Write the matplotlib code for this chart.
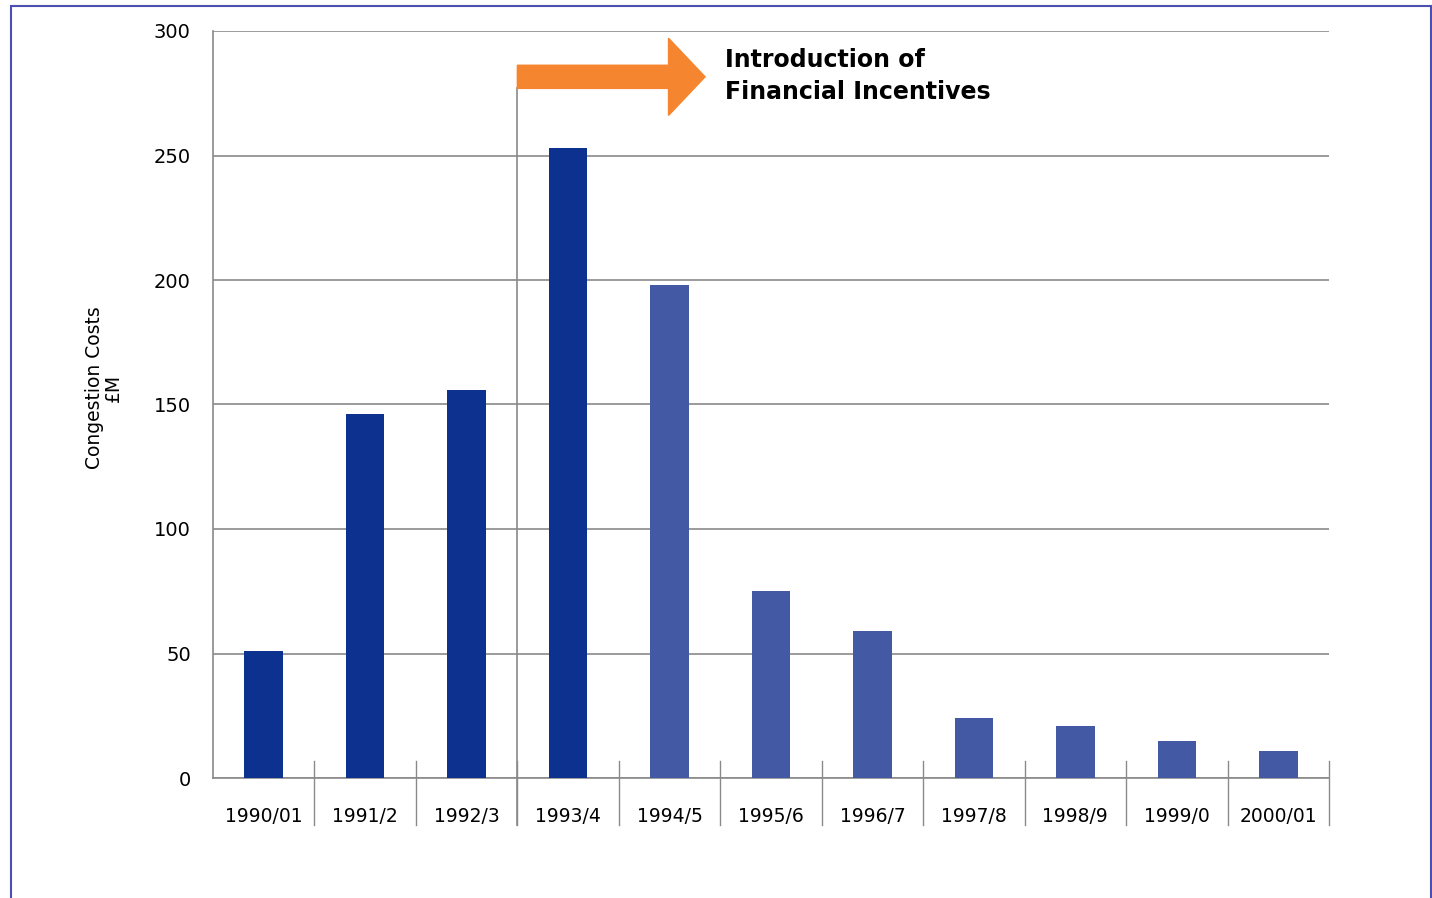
import matplotlib
matplotlib.use("Agg")
import matplotlib.pyplot as plt
from matplotlib.patches import Rectangle, FancyArrow
from matplotlib.lines import Line2D

categories = ["1990/01", "1991/2", "1992/3", "1993/4", "1994/5", "1995/6",
              "1996/7", "1997/8", "1998/9", "1999/0", "2000/01"]
values = [51, 146, 156, 253, 198, 75, 59, 24, 21, 15, 11]
yticks = [0, 50, 100, 150, 200, 250, 300]
dark = "#0D318F"
light = "#4459A3"
colors = [dark] * 4 + [light] * 7

W, H = 1432, 898
fig = plt.figure(figsize=(W / 100, H / 100), dpi=100)
fig.patch.set_facecolor("white")

# outer frame
fig.add_artist(Rectangle((11 / W, -0.01), (1431 - 11) / W, (H - 6) / H + 0.01,
                         transform=fig.transFigure, fill=False,
                         edgecolor="#4A4FB0", linewidth=1.5))

ax = fig.add_axes([213 / W, 1 - 778 / H, (1329 - 213) / W, (778 - 31) / H])
n = len(categories)
x = list(range(n))
ax.bar(x, values, width=0.38, color=colors, zorder=3)
ax.set_xlim(-0.5, n - 0.5)
ax.set_ylim(0, 300)
ax.set_yticks(yticks)
ax.set_yticklabels([str(t) for t in yticks], fontsize=14, family="DejaVu Sans")
ax.yaxis.grid(True, color="#8A8A8A", linewidth=1.2, zorder=0)
ax.tick_params(axis="y", length=0, pad=16)
ax.set_xticks(x)
ax.set_xticklabels(categories, fontsize=13.5, family="DejaVu Sans")
ax.tick_params(axis="x", length=0, pad=21)
for s in ["top", "right"]:
    ax.spines[s].set_visible(False)
ax.spines["left"].set_color("#8A8A8A")
ax.spines["bottom"].set_color("#8A8A8A")
ax.spines["left"].set_linewidth(1.2)
ax.spines["bottom"].set_linewidth(1.2)

# category separators below axis
for k in range(1, n + 1):
    xb = k - 0.5
    ax.add_line(Line2D([xb, xb], [-19, 7], color="#8A8A8A", linewidth=1.0,
                       clip_on=False, zorder=2))

# vertical marker line at 1993/4 boundary
ax.add_line(Line2D([2.5, 2.5], [-19, 277], color="#8A8A8A", linewidth=1.2,
                   clip_on=False, zorder=4))

# orange arrow
ax.add_patch(FancyArrow(2.5, 281.6, 1.85, 0, width=9.3, head_width=31,
                        head_length=0.36, length_includes_head=True,
                        color="#F5852F", clip_on=False, zorder=5))
ax.text(4.55, 282, "Introduction of\nFinancial Incentives", fontsize=17,
        fontweight="bold", ha="left", va="center", linespacing=1.45,
        color="black", family="DejaVu Sans")

fig.text(104 / W, 1 - 388 / H, "Congestion Costs\n£M", rotation=90,
         ha="center", va="center", fontsize=13.5, family="DejaVu Sans",
         multialignment="center", linespacing=1.0)

fig.savefig("out.png", dpi=100)
